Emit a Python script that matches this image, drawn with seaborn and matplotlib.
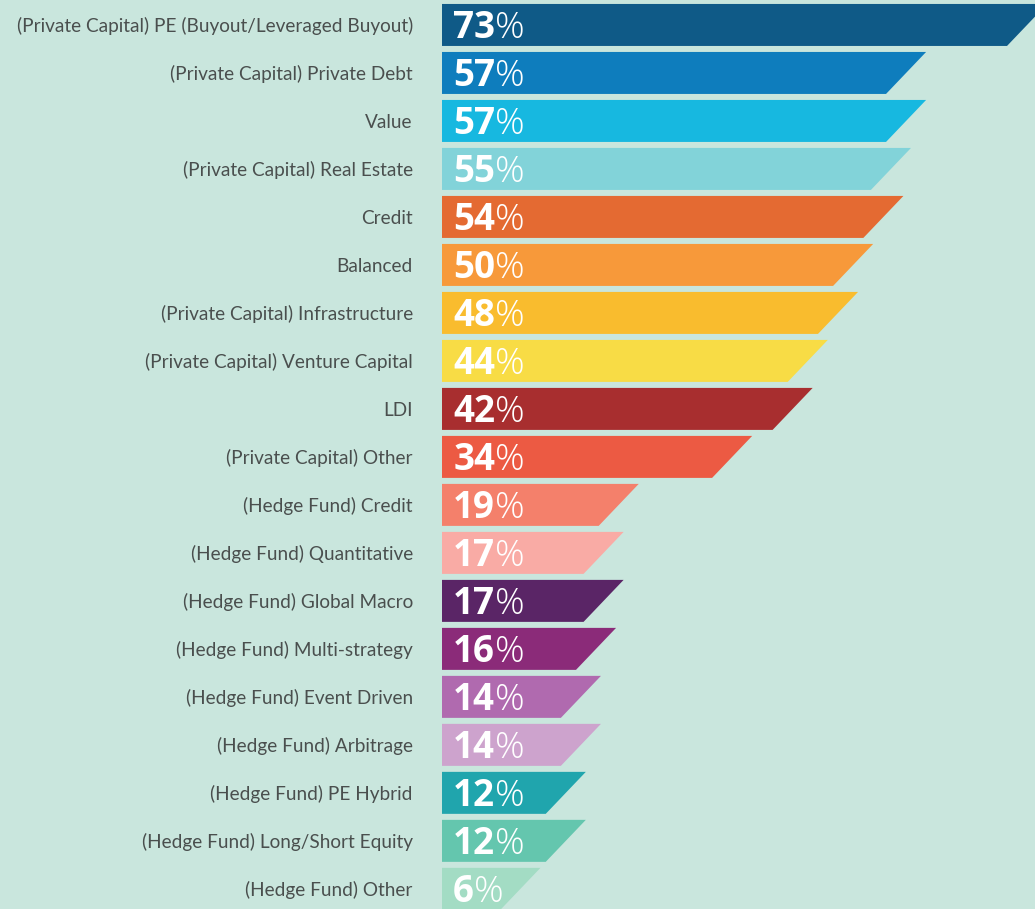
import numpy as np
import pandas as pd
import matplotlib
matplotlib.use("Agg")
import matplotlib.pyplot as plt
from matplotlib.patches import Polygon
import seaborn as sns

categories = [
    "(Private Capital) PE (Buyout/Leveraged Buyout)",
    "(Private Capital) Private Debt",
    "Value",
    "(Private Capital) Real Estate",
    "Credit",
    "Balanced",
    "(Private Capital) Infrastructure",
    "(Private Capital) Venture Capital",
    "LDI",
    "(Private Capital) Other",
    "(Hedge Fund) Credit",
    "(Hedge Fund) Quantitative",
    "(Hedge Fund) Global Macro",
    "(Hedge Fund) Multi-strategy",
    "(Hedge Fund) Event Driven",
    "(Hedge Fund) Arbitrage",
    "(Hedge Fund) PE Hybrid",
    "(Hedge Fund) Long/Short Equity",
    "(Hedge Fund) Other",
]
values = [73, 57, 57, 55, 54, 50, 48, 44, 42, 34, 19, 17, 17, 16, 14, 14, 12, 12, 6]
colors = [
    "#0f5a87", "#0e7dbd", "#17b8e0", "#82d3d9", "#e46a32", "#f7993a",
    "#f9bc2e", "#f8dc45", "#a82e2f", "#ec5a43", "#f4806b", "#f9aba5",
    "#5a2566", "#8b2b79", "#b06aaf", "#cda3cd", "#20a5ad", "#64c6ae",
    "#a3dcc4",
]

BG = "#c9e6dd"
df = pd.DataFrame({"category": categories, "value": values})

fig = plt.figure(figsize=(10.35, 9.09), dpi=100, facecolor=BG)
ax = fig.add_axes([442 / 1035, 0, 593 / 1035, 1])
ax.set_facecolor(BG)

sns.barplot(data=df, y="category", x="value", hue="category",
            palette=colors, saturation=1, legend=False, width=0.875,
            ax=ax, orient="h")

# turn each bar into a slanted shape
left_pad = 1.72   # bar starts a little left of zero
slant = 5.3       # top-right edge sticks out further than bottom-right
for patch in list(ax.patches):
    x0, y0 = patch.get_x(), patch.get_y()
    w, h = patch.get_width(), patch.get_height()
    fc = patch.get_facecolor()
    patch.remove()
    poly = Polygon([(x0 - left_pad, y0), (x0 - left_pad, y0 + h),
                    (x0 + w, y0 + h), (x0 + w + slant, y0)],
                   closed=True, facecolor=fc, edgecolor="none")
    ax.add_patch(poly)

# value labels: bold number + light percent sign
for i, v in enumerate(values):
    num = ax.text(-0.25, i + 0.06, str(v), color="white", fontsize=26.5,
                  fontweight="bold", family="Open Sans", va="center", ha="left")
    ax.annotate("%", xy=(1, 0), xycoords=num, color="white", fontsize=26.5,
                fontweight="light", family="Open Sans", va="bottom", ha="left")

ax.set_xlim(-left_pad, 76.7)
ax.set_ylim(18.42, -0.52)
ax.set_xlabel("")
ax.set_ylabel("")
ax.set_xticks([])
ax.tick_params(axis="y", length=0, pad=21)
for lab in ax.get_yticklabels():
    lab.set_fontfamily("Lato")
    lab.set_fontsize(13.7)
    lab.set_color("#4a4f4e")
for s in ax.spines.values():
    s.set_visible(False)

fig.savefig("out.png", dpi=100, facecolor=BG)
